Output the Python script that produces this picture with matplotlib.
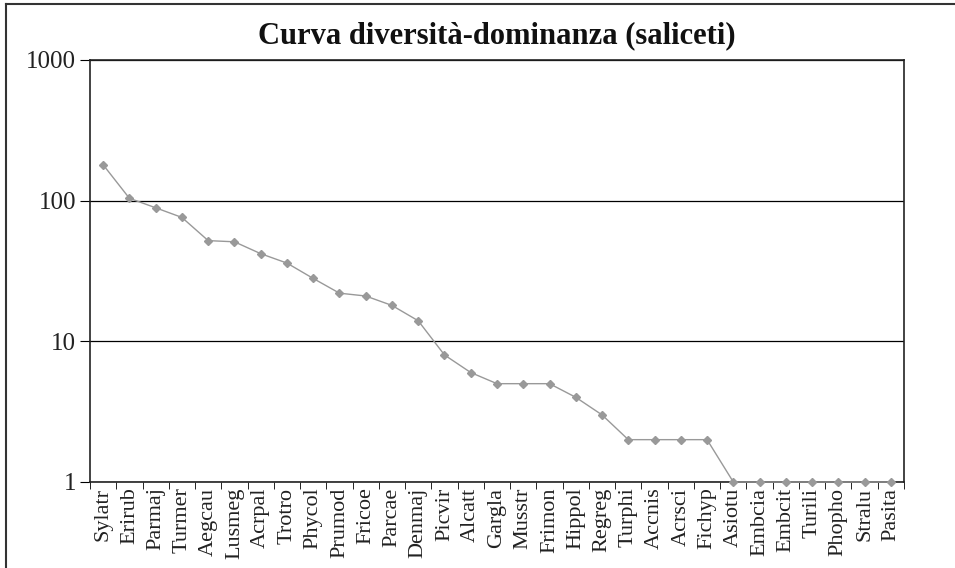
import matplotlib
matplotlib.use("Agg")
import matplotlib.pyplot as plt
from matplotlib.lines import Line2D
from matplotlib.ticker import FixedLocator, NullLocator

species = ["Sylatr", "Erirub", "Parmaj", "Turmer", "Aegcau", "Lusmeg", "Acrpal", "Trotro",
           "Phycol", "Prumod", "Fricoe", "Parcae", "Denmaj", "Picvir", "Alcatt", "Gargla",
           "Musstr", "Frimon", "Hippol", "Regreg", "Turphi", "Accnis", "Acrsci", "Fichyp",
           "Asiotu", "Embcia", "Embcit", "Turili", "Phopho", "Stralu", "Pasita"]
abundance = [180, 104, 89, 76, 52, 51, 42, 36,
             28, 22, 21, 18, 14, 8, 6, 5,
             5, 5, 4, 3, 2, 2, 2, 2,
             1, 1, 1, 1, 1, 1, 1]
y_ticks = [1, 10, 100, 1000]
y_tick_labels = ["1", "10", "100", "1000"]
title = "Curva diversità-dominanza (saliceti)"

plt.rcParams['font.family'] = ['Liberation Serif', 'DejaVu Serif']

fig = plt.figure(figsize=(9.55, 5.68), dpi=100)
ax = fig.add_axes([90/955, 1-482/568, (904-90)/955, (482-60)/568])

n = len(species)
x = list(range(n))
ax.plot(x, abundance, color="#999999", lw=1.0, marker="D", ms=4.5,
        markerfacecolor="#999999", markeredgecolor="#999999", clip_on=False, zorder=3)

ax.set_yscale("log")
ax.set_ylim(1, 1000)
ax.set_xlim(-0.5, n - 0.5)
ax.yaxis.set_major_locator(FixedLocator(y_ticks))
ax.yaxis.set_minor_locator(NullLocator())
ax.set_yticklabels(y_tick_labels, fontsize=18, color="#222222")
ax.grid(axis="y", color="black", lw=0.9)
ax.set_axisbelow(True)

ax.set_xticks(x)
ax.set_xticklabels(species, rotation=90, fontsize=16, color="#222222")
ax.tick_params(axis="x", length=0, pad=4)
ax.set_xticks([i - 0.5 for i in range(n + 1)], minor=True)
ax.tick_params(axis="x", which="minor", length=5, direction="out", color="black")
ax.tick_params(axis="y", length=7, direction="out", color="black", pad=3)

for s in ax.spines.values():
    s.set_color("#222222")
    s.set_linewidth(1.2)

ax.set_title(title, fontsize=22, fontweight="bold", pad=12, color="#111111")

fig.add_artist(Line2D([6/955, 6/955], [0, 1 - 4/568], transform=fig.transFigure,
                      color="#333333", lw=1.5))
fig.add_artist(Line2D([6/955, 1], [1 - 4/568, 1 - 4/568], transform=fig.transFigure,
                      color="#333333", lw=1.5))

fig.savefig("out.png", dpi=100)
